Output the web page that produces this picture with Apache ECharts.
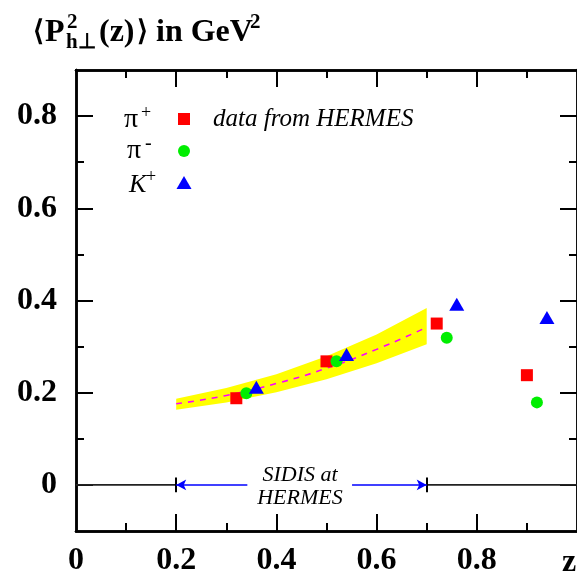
<!DOCTYPE html>
<html><head><meta charset="utf-8">
<script src="https://cdn.jsdelivr.net/npm/echarts@6/dist/echarts.min.js"></script>
<style>html,body{margin:0;padding:0;background:#fff}#c{width:577px;height:580px}</style>
</head><body><div id="c"></div>
<script>
// ---- data ----
const piPlusZ = [0.32, 0.50, 0.72, 0.90];
const piPlusP = [0.188, 0.268, 0.350, 0.238];
const piMinusZ = [0.34, 0.52, 0.74, 0.92];
const piMinusP = [0.199, 0.268, 0.319, 0.179];
const kPlusZ = [0.36, 0.54, 0.76, 0.94];
const kPlusP = [0.212, 0.283, 0.392, 0.363];
const bandZ = [0.2, 0.3, 0.4, 0.5, 0.6, 0.7];
const bandMid = [0.176, 0.194, 0.220, 0.253, 0.294, 0.342];
const bandLo = [0.163, 0.179, 0.201, 0.229, 0.264, 0.305];
const bandHi = [0.187, 0.210, 0.240, 0.279, 0.326, 0.384];
const xMajorTicks = [0.2, 0.4, 0.6, 0.8];
const xMinorTicks = [0.1, 0.3, 0.5, 0.7, 0.9];
const xLabels = [0, 0.2, 0.4, 0.6, 0.8];
const yMajorTicks = [0, 0.2, 0.4, 0.6, 0.8];
const yMinorTicks = [0.1, 0.3, 0.5, 0.7];
const yLabels = [0, 0.2, 0.4, 0.6, 0.8];
const hermesRange = [0.2, 0.7];
const arrowGap = [0.342, 0.551];

const zip = (a, b) => a.map((v, i) => [v, b[i]]);
const chart = echarts.init(document.getElementById('c'), null, {renderer: 'canvas'});
const SERIF = '"Liberation Serif","Times New Roman",serif';
const AXW = 2.5;

function xAx(pos, ticks, len, labels) {
  return {
    type: 'value', position: pos, min: 0, max: 1,
    axisLine: {show: true, onZero: false, lineStyle: {color: '#000', width: AXW}},
    axisTick: {show: true, inside: true, length: len, customValues: ticks, lineStyle: {color: '#000', width: 2}},
    axisLabel: labels ? {show: true, customValues: labels, margin: 14, color: '#000', fontFamily: SERIF, fontWeight: 'bold', fontSize: 32,
      formatter: v => String(+v.toFixed(1))} : {show: false},
    splitLine: {show: false}
  };
}
function yAx(pos, ticks, len, labels) {
  return {
    type: 'value', position: pos, min: -0.1, max: 0.9,
    axisLine: {show: true, onZero: false, lineStyle: {color: '#000', width: AXW}},
    axisTick: {show: true, inside: true, length: len, customValues: ticks, lineStyle: {color: '#000', width: 2}},
    axisLabel: labels ? {show: true, customValues: labels, margin: 19, color: '#000', fontFamily: SERIF, fontWeight: 'bold', fontSize: 32,
      formatter: v => String(+v.toFixed(1))} : {show: false},
    splitLine: {show: false}
  };
}

const option = {
  animation: false,
  backgroundColor: '#fff',
  grid: {left: 76, right: -1, top: 70, bottom: 49, containLabel: false},
  xAxis: [xAx('bottom', xMajorTicks, 17, xLabels), xAx('bottom', xMinorTicks, 8, null),
          xAx('top', xMajorTicks, 17, null), xAx('top', xMinorTicks, 8, null)],
  yAxis: [yAx('left', yMajorTicks, 17, yLabels), yAx('left', yMinorTicks, 8, null),
          yAx('right', yMajorTicks, 17, null), yAx('right', yMinorTicks, 8, null)],
  series: [
    {
      type: 'custom', z: 1, silent: true,
      data: bandZ.map((z, i) => [z, bandLo[i], bandHi[i]]),
      renderItem: function (params, api) {
        if (params.dataIndex !== 0) return null;
        const pts = [];
        for (let i = 0; i < bandZ.length; i++) pts.push(api.coord([bandZ[i], bandHi[i]]));
        for (let i = bandZ.length - 1; i >= 0; i--) pts.push(api.coord([bandZ[i], bandLo[i]]));
        return {type: 'polygon', shape: {points: pts, smooth: 0}, style: {fill: '#ffff00', stroke: null}};
      }
    },
    {
      type: 'line', z: 2, data: zip(bandZ, bandMid), smooth: true, symbol: 'none', silent: true,
      lineStyle: {color: '#ff00ff', width: 1.6, type: [6, 6]}
    },
    {
      type: 'line', z: 2, data: [[0, 0], [hermesRange[0], 0]], symbol: 'none', silent: true,
      lineStyle: {color: '#222', width: 1.6},
      markLine: {
        silent: true, symbol: ['none', 'none'], label: {show: false},
        lineStyle: {color: '#000', width: 2, type: 'solid'},
        data: [
          [{coord: [hermesRange[0], -0.016]}, {coord: [hermesRange[0], 0.016]}],
          [{coord: [hermesRange[1], -0.016]}, {coord: [hermesRange[1], 0.016]}]
        ]
      }
    },
    {
      type: 'line', z: 2, data: [[hermesRange[1], 0], [1, 0]], symbol: 'none', silent: true,
      lineStyle: {color: '#222', width: 1.6},
      markLine: {
        silent: true, symbol: ['none', 'arrow'], symbolSize: [8, 10], label: {show: false},
        lineStyle: {color: '#0000ff', width: 1.5, type: 'solid'},
        data: [
          [{coord: [arrowGap[0], 0]}, {coord: [hermesRange[0], 0]}],
          [{coord: [arrowGap[1], 0]}, {coord: [hermesRange[1], 0]}]
        ]
      }
    },
    {type: 'scatter', z: 5, data: zip(piPlusZ, piPlusP), symbol: 'rect', symbolSize: 12, itemStyle: {color: '#ff0000', opacity: 1}},
    {type: 'scatter', z: 5, data: zip(piMinusZ, piMinusP), symbol: 'circle', symbolSize: 12, itemStyle: {color: '#00ee00', opacity: 1}},
    {type: 'scatter', z: 6, data: zip(kPlusZ, kPlusP), symbol: 'triangle', symbolSize: [15, 13], itemStyle: {color: '#0000ff', opacity: 1}}
  ],
  graphic: [
    // title
    {type: 'text', left: 33, top: 19, style: {text: '⟨', font: 'bold 28px ' + SERIF, fill: '#000'}},
    {type: 'text', left: 45, top: 17, style: {text: 'P', font: 'bold 32px ' + SERIF, fill: '#000'}},
    {type: 'text', left: 67, top: 12, style: {text: '2', font: 'bold 21px ' + SERIF, fill: '#000'}},
    {type: 'text', left: 66, top: 32, style: {text: 'h⊥', font: 'bold 21px ' + SERIF, fill: '#000'}},
    {type: 'text', left: 99, top: 17, style: {text: '(z)', font: 'bold 32px ' + SERIF, fill: '#000'}},
    {type: 'text', left: 137, top: 19, style: {text: '⟩', font: 'bold 28px ' + SERIF, fill: '#000'}},
    {type: 'text', left: 156, top: 17, style: {text: 'in GeV', font: 'bold 32px ' + SERIF, fill: '#000'}},
    {type: 'text', left: 250, top: 12, style: {text: '2', font: 'bold 21px ' + SERIF, fill: '#000'}},
    // legend
    {type: 'text', left: 124, top: 106, style: {text: 'π', font: '28px ' + SERIF, fill: '#000'}},
    {type: 'text', left: 141, top: 104, style: {text: '+', font: '18px ' + SERIF, fill: '#000'}},
    {type: 'text', left: 127, top: 137, style: {text: 'π', font: '28px ' + SERIF, fill: '#000'}},
    {type: 'text', left: 145, top: 134, style: {text: '-', font: '20px ' + SERIF, fill: '#000'}},
    {type: 'text', left: 129, top: 172, style: {text: 'K', font: 'italic 26px ' + SERIF, fill: '#000'}},
    {type: 'text', left: 146, top: 168, style: {text: '+', font: '18px ' + SERIF, fill: '#000'}},
    {type: 'rect', shape: {x: 178, y: 113, width: 12, height: 12}, style: {fill: '#ff0000'}},
    {type: 'circle', shape: {cx: 184, cy: 151, r: 6}, style: {fill: '#00ee00'}},
    {type: 'polygon', shape: {points: [[184, 176], [191.5, 189], [176.5, 189]]}, style: {fill: '#0000ff'}},
    {type: 'text', left: 213, top: 107, style: {text: 'data from HERMES', font: 'italic 25px ' + SERIF, fill: '#000'}},
    // SIDIS text
    {type: 'text', x: 300, y: 487, style: {text: 'SIDIS at\nHERMES', font: 'italic 22px ' + SERIF, fill: '#000', align: 'center', verticalAlign: 'middle', lineHeight: 23}},
    // z axis title
    {type: 'text', x: 569, y: 563, style: {text: 'z', font: 'bold 32px ' + SERIF, fill: '#000', align: 'center', verticalAlign: 'middle'}}
  ]
};
chart.setOption(option);
</script>
</body></html>
